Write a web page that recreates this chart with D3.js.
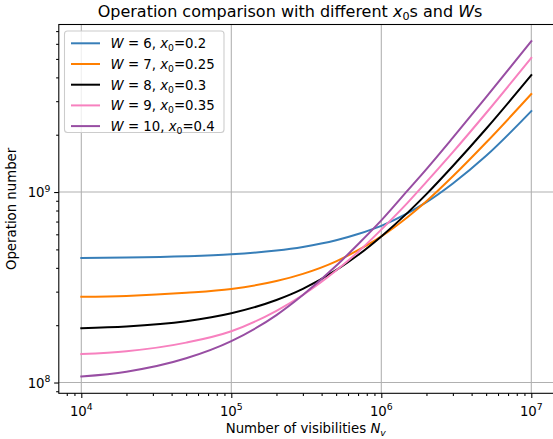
<!DOCTYPE html>
<html>
<head>
<meta charset="utf-8">
<script src="https://cdn.jsdelivr.net/npm/d3@7/dist/d3.min.js"></script>
<style>
  html, body { margin: 0; padding: 0; background: #fff; }
  svg { display: block; font-family: "DejaVu Sans", sans-serif; }
</style>
</head>
<body>
<svg id="chart" width="553" height="439"></svg>
<script>
// ---- data ----
const visibilities = [1e4, 2e4, 5e4, 1e5, 2e5, 3e5, 5e5, 7e5, 1e6, 1.5e6, 2e6, 3e6, 5e6, 1e7];
const seriesW = [6, 7, 8, 9, 10];
const seriesX0 = ["0.2", "0.25", "0.3", "0.35", "0.4"];
const opsW6  = [4.51e8, 4.53e8, 4.60e8, 4.71e8, 4.93e8, 5.15e8, 5.58e8, 6.02e8, 6.65e8, 7.75e8, 8.85e8, 1.11e9, 1.55e9, 2.66e9];
const opsW7  = [2.82e8, 2.85e8, 2.96e8, 3.10e8, 3.41e8, 3.72e8, 4.33e8, 4.95e8, 5.85e8, 7.40e8, 8.95e8, 1.21e9, 1.82e9, 3.27e9];
const opsW8  = [1.93e8, 1.97e8, 2.10e8, 2.31e8, 2.71e8, 3.10e8, 3.89e8, 4.67e8, 5.85e8, 7.80e8, 9.75e8, 1.37e9, 2.15e9, 4.11e9];
const opsW9  = [1.41e8, 1.46e8, 1.62e8, 1.86e8, 2.38e8, 2.88e8, 3.87e8, 4.85e8, 6.35e8, 8.80e8, 1.13e9, 1.62e9, 2.60e9, 5.06e9];
const opsW10 = [1.075e8, 1.14e8, 1.34e8, 1.65e8, 2.26e8, 2.88e8, 4.10e8, 5.32e8, 7.10e8, 1.02e9, 1.32e9, 1.93e9, 3.15e9, 6.19e9];
const seriesValues = [opsW6, opsW7, opsW8, opsW9, opsW10];
const seriesColors = ["#377eb8", "#ff7f00", "#000000", "#f781bf", "#984ea3"];
const xMajorTicks = [1e4, 1e5, 1e6, 1e7];
const xTickExp = ["4", "5", "6", "7"];
const yMajorTicks = [1e8, 1e9];
const yTickExp = ["8", "9"];

// ---- layout ----
const svg = d3.select("#chart");
const L = 58.8, R = 553.8, T = 24.5, B = 393.3;
const FS = 13.3, FSsup = 9.3;

function paddedLogDomain(lo, hi) {
  const a = Math.log10(lo), b = Math.log10(hi), m = (b - a) * 0.05;
  return [Math.pow(10, a - m), Math.pow(10, b + m)];
}
const allY = seriesValues.flat();
const x = d3.scaleLog().domain(paddedLogDomain(d3.min(visibilities), d3.max(visibilities))).range([L, R]);
const y = d3.scaleLog().domain(paddedLogDomain(d3.min(allY), d3.max(allY))).range([B, T]);

function minorTicks(domain) {
  const out = [];
  const lo = Math.floor(Math.log10(domain[0])), hi = Math.ceil(Math.log10(domain[1]));
  for (let e = lo; e <= hi; e++) for (let k = 2; k <= 9; k++) {
    const v = k * Math.pow(10, e);
    if (v >= domain[0] && v <= domain[1]) out.push(v);
  }
  return out;
}

// grid
const grid = svg.append("g");
grid.selectAll("line.gx").data(xMajorTicks).enter().append("line")
  .attr("x1", d => x(d)).attr("x2", d => x(d)).attr("y1", T).attr("y2", B)
  .attr("stroke", "#b0b0b0").attr("stroke-width", 1.07);
grid.selectAll("line.gy").data(yMajorTicks).enter().append("line")
  .attr("x1", L).attr("x2", R).attr("y1", d => y(d)).attr("y2", d => y(d))
  .attr("stroke", "#b0b0b0").attr("stroke-width", 1.07);

// lines
const line = d3.line().x((d, i) => x(visibilities[i])).y(d => y(d)).curve(d3.curveMonotoneX);
svg.append("clipPath").attr("id", "clip").append("rect")
  .attr("x", L).attr("y", T).attr("width", R - L).attr("height", B - T);
svg.append("g").attr("clip-path", "url(#clip)")
  .selectAll("path").data(seriesValues).enter().append("path")
  .attr("d", d => line(d)).attr("fill", "none")
  .attr("stroke", (d, i) => seriesColors[i]).attr("stroke-width", 2)
  .attr("stroke-linejoin", "round").attr("stroke-linecap", "square");

// axes
svg.append("g").attr("transform", `translate(0,${B})`)
  .call(d3.axisBottom(x).tickValues(xMajorTicks).tickSize(4.67).tickFormat(""));
svg.append("g").attr("transform", `translate(0,${B})`)
  .call(d3.axisBottom(x).tickValues(minorTicks(x.domain())).tickSize(2.67).tickFormat(""));
svg.append("g").attr("transform", `translate(${L},0)`)
  .call(d3.axisLeft(y).tickValues(yMajorTicks).tickSize(4.67).tickFormat(""));
svg.append("g").attr("transform", `translate(${L},0)`)
  .call(d3.axisLeft(y).tickValues(minorTicks(y.domain())).tickSize(2.67).tickFormat(""));
svg.selectAll(".domain").remove();
svg.selectAll(".tick line").attr("stroke", "#000").attr("stroke-width", 1.07);

// spines
svg.append("rect").attr("x", L).attr("y", T).attr("width", R - L).attr("height", B - T)
  .attr("fill", "none").attr("stroke", "#000").attr("stroke-width", 1.07);

// tick labels
const tl = svg.append("g").attr("font-size", FS).attr("fill", "#000");
xMajorTicks.forEach((v, i) => {
  const t = tl.append("text").attr("x", x(v)).attr("y", 415.5).attr("text-anchor", "middle");
  t.append("tspan").text("10");
  t.append("tspan").attr("font-size", FSsup).attr("dy", -5.5).text(xTickExp[i]);
});
yMajorTicks.forEach((v, i) => {
  const t = tl.append("text").attr("x", 50.5).attr("y", y(v) + 5).attr("text-anchor", "end");
  t.append("tspan").text("10");
  t.append("tspan").attr("font-size", FSsup).attr("dy", -5.5).text(yTickExp[i]);
});

// axis labels and title
const xlab = svg.append("text").attr("x", (L + R) / 2 - 0.5).attr("y", 433).attr("text-anchor", "middle")
  .attr("font-size", FS);
xlab.append("tspan").text("Number of visibilities ");
xlab.append("tspan").attr("font-style", "italic").text("N");
xlab.append("tspan").attr("font-style", "italic").attr("font-size", FSsup).attr("dy", 2.5).text("v");

svg.append("text").attr("transform", `translate(16.4,${(T + B) / 2}) rotate(-90)`)
  .attr("text-anchor", "middle").attr("font-size", FS).text("Operation number");

const title = svg.append("text").attr("x", 290).attr("y", 16.5).attr("text-anchor", "middle")
  .attr("font-size", 16);
title.append("tspan").text("Operation comparison with different ");
title.append("tspan").attr("font-style", "italic").text("x");
title.append("tspan").attr("font-size", 11.2).attr("dy", 3).text("0");
title.append("tspan").attr("dy", -3).text("s and ");
title.append("tspan").attr("font-style", "italic").text("W");
title.append("tspan").text("s");

// legend
const lg = svg.append("g");
lg.append("rect").attr("x", 64.5).attr("y", 31).attr("width", 159.5).attr("height", 101.5)
  .attr("rx", 3).attr("fill", "#fff").attr("fill-opacity", 0.8)
  .attr("stroke", "#cccccc").attr("stroke-width", 1.07);
seriesW.forEach((w, i) => {
  const yy = 43.3 + i * 20.7;
  lg.append("line").attr("x1", 71).attr("x2", 100).attr("y1", yy).attr("y2", yy)
    .attr("stroke", seriesColors[i]).attr("stroke-width", 2);
  const t = lg.append("text").attr("x", 110.5).attr("y", yy + 4.8).attr("font-size", FS);
  t.append("tspan").attr("font-style", "italic").text("W");
  t.append("tspan").text(` = ${w}, `);
  t.append("tspan").attr("font-style", "italic").text("x");
  t.append("tspan").attr("font-size", FSsup).attr("dy", 3).text("0");
  t.append("tspan").attr("dy", -3).text("=" + seriesX0[i]);
});
</script>
</body>
</html>
